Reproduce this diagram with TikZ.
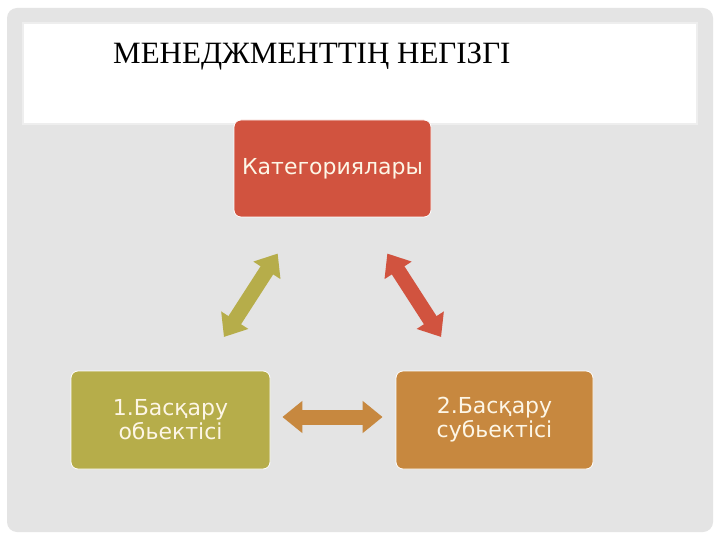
\documentclass[tikz,border=0pt]{standalone}
\usepackage{fontspec}
\setmainfont{Liberation Serif}
\newfontfamily\boxfont{DejaVu Sans}
\usetikzlibrary{positioning,arrows.meta}

\definecolor{panelgray}{HTML}{E4E4E4}
\definecolor{titleline}{HTML}{EEEEEE}
\definecolor{catred}{HTML}{D1533F}
\definecolor{objolive}{HTML}{B6AD4A}
\definecolor{suborange}{HTML}{C7883F}
\definecolor{boxtext}{HTML}{FDF6E6}

\begin{document}
\begin{tikzpicture}[
    x=1pt,
    y=-1pt,
    block/.style={
        rectangle,
        draw=white,
        line width=0.8pt,
        minimum width=197pt,
        minimum height=97pt,
        text centered,
        align=center,
        rounded corners=7pt,
        text=boxtext,
        font=\boxfont\fontsize{22}{24}\selectfont
    },
    bigarrow/.style={
        line width=15pt,
        {Triangle[width=31pt,length=20pt]}-{Triangle[width=31pt,length=20pt]}
    }
]
    % Background
    \useasboundingbox (0,0) rectangle (720,540);
    \fill[white] (0,0) rectangle (720,540);
    \fill[panelgray, rounded corners=10pt] (7,8) rectangle (713,532);
    \draw[titleline, fill=white, line width=2pt] (23,23) rectangle (697,124);

    % Title
    \node[anchor=base west, inner sep=0pt, font=\fontsize{31}{36}\selectfont] (title) at (113,64) {МЕНЕДЖМЕНТТІҢ НЕГІЗГІ};

    % Blocks
    \node[block, fill=catred] (cat) at (332.5,168.5) {Категориялары};
    \node[block, fill=objolive, minimum width=199pt, minimum height=98pt] (obj) at (170.5,420) {1.Басқару\\обьектісі};
    \node[block, fill=suborange, minimum height=98pt] (sub) at (494.5,420) {2.Басқару\\субьектісі};

    % Arrows
    \draw[bigarrow, objolive, shorten <=43pt, shorten >=40pt] (cat) -- (obj);
    \draw[bigarrow, catred, shorten <=43pt, shorten >=40pt] (cat) -- (sub);
    \draw[bigarrow, suborange, shorten <=12pt, shorten >=13pt] ([yshift=3pt]obj.east) -- ([yshift=3pt]sub.west);
\end{tikzpicture}
\end{document}
